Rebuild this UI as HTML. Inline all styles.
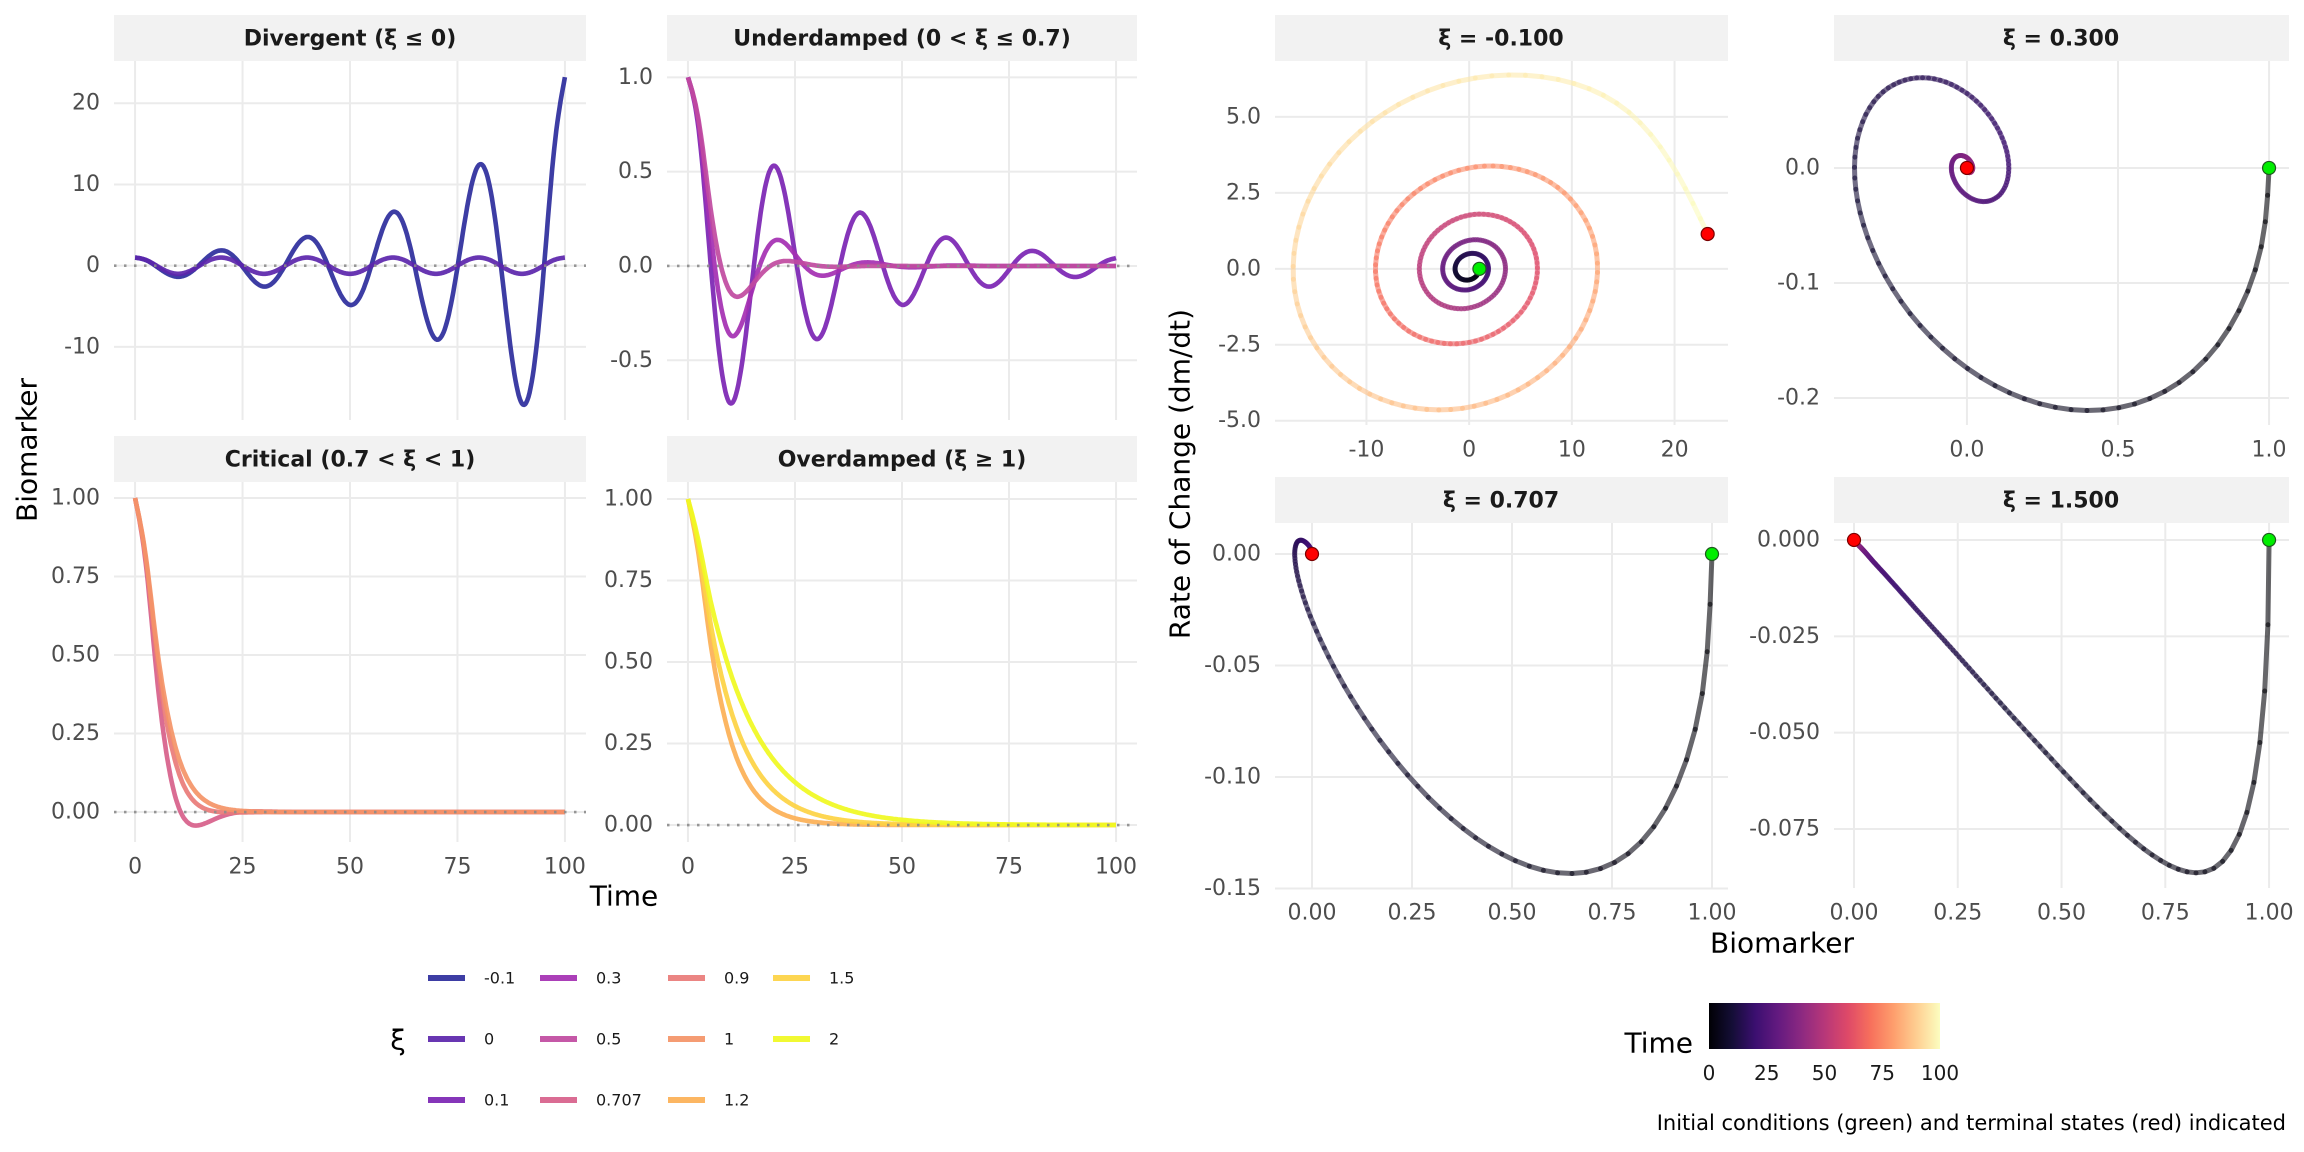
<!DOCTYPE html>
<html><head><meta charset="utf-8">
<style>
body{margin:0;background:#fff}
svg{display:block;font-family:"DejaVu Sans","Liberation Sans",sans-serif}
</style></head>
<body>
<svg id="chart" xmlns="http://www.w3.org/2000/svg" width="2304" height="1152" viewBox="0 0 2304 1152">
<defs>
<linearGradient id="magmaGrad" x1="0" y1="0" x2="1" y2="0">
<stop offset="0%" stop-color="#000004"/><stop offset="10%" stop-color="#140e36"/><stop offset="20%" stop-color="#3b0f70"/><stop offset="30%" stop-color="#641a80"/><stop offset="40%" stop-color="#8c2981"/><stop offset="50%" stop-color="#b73779"/><stop offset="60%" stop-color="#de4968"/><stop offset="70%" stop-color="#f7705c"/><stop offset="80%" stop-color="#fe9f6d"/><stop offset="90%" stop-color="#fecf92"/><stop offset="100%" stop-color="#fcfdbf"/>
</linearGradient>
</defs>
<rect width="2304" height="1152" fill="#fff"/>
<g id="layer"></g>
<g font-weight="bold" font-size="22" fill="#1a1a1a" text-anchor="middle">
<rect x="114" y="15" width="472" height="46" fill="#f2f2f2"/>
<text x="350" y="39" dominant-baseline="central">Divergent (ξ ≤ 0)</text>
<rect x="667" y="15" width="470" height="46" fill="#f2f2f2"/>
<text x="902" y="39" dominant-baseline="central">Underdamped (0 &lt; ξ ≤ 0.7)</text>
<rect x="114" y="436" width="472" height="46" fill="#f2f2f2"/>
<text x="350" y="460" dominant-baseline="central">Critical (0.7 &lt; ξ &lt; 1)</text>
<rect x="667" y="436" width="470" height="46" fill="#f2f2f2"/>
<text x="902" y="460" dominant-baseline="central">Overdamped (ξ ≥ 1)</text>
<rect x="1275" y="15" width="453" height="46" fill="#f2f2f2"/>
<text x="1501" y="39" dominant-baseline="central">ξ = -0.100</text>
<rect x="1834" y="15" width="455" height="46" fill="#f2f2f2"/>
<text x="2061" y="39" dominant-baseline="central">ξ = 0.300</text>
<rect x="1275" y="477" width="453" height="46" fill="#f2f2f2"/>
<text x="1501" y="501" dominant-baseline="central">ξ = 0.707</text>
<rect x="1834" y="477" width="455" height="46" fill="#f2f2f2"/>
<text x="2061" y="501" dominant-baseline="central">ξ = 1.500</text>
</g>
<g font-size="28" fill="#000" text-anchor="middle">
<text transform="translate(27,450) rotate(-90)" dominant-baseline="central">Biomarker</text>
<text x="624" y="896" dominant-baseline="central">Time</text>
<text transform="translate(1180,474) rotate(-90)" dominant-baseline="central">Rate of Change (dm/dt)</text>
<text x="1782" y="943" dominant-baseline="central">Biomarker</text>
<text x="398" y="1040" dominant-baseline="central">ξ</text>
<text x="1693" y="1043" text-anchor="end" dominant-baseline="central">Time</text>
</g>
<rect x="1709" y="1003" width="231" height="46" fill="url(#magmaGrad)"/>
<text x="2286" y="1123" font-size="21" fill="#000" text-anchor="end" dominant-baseline="central">Initial conditions (green) and terminal states (red) indicated</text>
</svg>
<script>
const T = [0,2.5,5,7.5,10,12.5,15,17.5,20,22.5,25,27.5,30,32.5,35,37.5,40,42.5,45,47.5,50,52.5,55,57.5,60,62.5,65,67.5,70,72.5,75,77.5,80,82.5,85,87.5,90,92.5,95,97.5,100];
const M_NEG01 = [1,0.6913,-0.1084,-0.9754,-1.3712,-0.9645,0.1232,1.3177,1.8796,1.3448,-0.1338,-1.7792,-2.5757,-1.8739,0.1357,2.4012,3.5287,2.6101,-0.1205,-3.2394,-4.8336,-3.6331,0.0760,4.3681,6.6191,5.0548,0.0185,-5.8862,-9.0625,-7.0310,-0.1931,7.9288,12.404,9.7732,0.4955,-10.674,-16.974,-13.579,-0.9929,14.364,23.22];
const D_NEG01 = [0,-0.2405,-0.3694,-0.2859,-0.0068,0.3241,0.5057,0.3974,0.0186,-0.4364,-0.6920,-0.5522,-0.0383,0.5873,0.9467,0.7667,0.0699,-0.7899,-1.2949,-1.0644,-0.1195,1.0619,1.7705,1.4768,0.1962,-1.4266,-2.4205,-2.0483,-0.3133,1.9153,3.3082,2.8396,0.4900,-2.5700,-4.5204,-3.9352,-0.7541,3.4459,6.1750,5.4511,1.1462];
const M_0 = [1,0.7071,0,-0.7071,-1,-0.7071,0,0.7071,1,0.7071,0,-0.7071,-1,-0.7071,0,0.7071,1,0.7071,0,-0.7071,-1,-0.7071,0,0.7071,1,0.7071,0,-0.7071,-1,-0.7071,0,0.7071,1,0.7071,0,-0.7071,-1,-0.7071,0,0.7071,1];
const M_01 = [1,0.7217,0.0926,-0.4952,-0.7292,-0.5338,-0.0775,0.3546,0.5315,0.3946,0.0637,-0.2536,-0.3874,-0.2917,-0.0518,0.1813,0.2822,0.2155,0.0416,-0.1295,-0.2056,-0.1592,-0.0332,0.0925,0.1497,0.1175,0.0263,-0.0659,-0.1090,-0.0867,-0.0207,0.0470,0.0793,0.0640,0.0162,-0.0335,-0.0577,-0.0472,-0.0126,0.0238,0.0420];
const M_03 = [1,0.7476,0.2408,-0.1880,-0.3678,-0.3082,-0.1270,0.0454,0.1318,0.1241,0.0613,-0.0065,-0.0458,-0.0490,-0.0280,-0.0019,0.0153,0.0189,0.0123,0.0024,-0.0049,-0.0071,-0.0052,-0.0016,0.0014,0.0026,0.0022,0.0009,-0.0004,-0.0009,-0.0009,-0.0004,0,0.0002,0.0002,0.0001,0,-0.0001,-0.0001,0,0];
const M_05 = [1,0.7703,0.3527,0.0191,-0.1408,-0.1565,-0.1001,-0.0338,0.0102,0.0261,0.0227,0.0120,0.0022,-0.0031,-0.0043,-0.0031,-0.0013,0.0001,0.0006,0.0006,0.0003,0,0,0,0,0,0,0,0,0,0,0,0,0,0,0,0,0,0,0,0];
const M_0707 = [1,0.7902,0.4413,0.1701,0.0206,-0.0359,-0.0418,-0.0290,-0.0145,-0.0046,0.0003,0.0018,0.0017,0.0010,0.0005,0,0,0,0,0,0,0,0,0,0,0,0,0,0,0,0,0,0,0,0,0,0,0,0,0,0];
const M_09 = [1,0.8064,0.5059,0.2740,0.1315,0.0555,0.0196,0.0047,-0.0004,-0.0015,-0.0013,-0.0008,-0.0004,-0.0002,-0.0001,0,0,0,0,0,0,0,0,0,0,0,0,0,0,0,0,0,0,0,0,0,0,0,0,0,0];
const M_1 = [1,0.8140,0.5344,0.3181,0.1790,0.0971,0.0513,0.0266,0.0136,0.0069,0.0035,0.0017,0.0008,0.0004,0.0002,0.0001,0,0,0,0,0,0,0,0,0,0,0,0,0,0,0,0,0,0,0,0,0,0,0,0,0];
const M_12 = [1,0.8278,0.5829,0.3916,0.2590,0.1704,0.1119,0.0735,0.0482,0.0316,0.0207,0.0136,0.0089,0.0059,0.0038,0.0025,0.0017,0.0011,0.0007,0.0005,0.0003,0.0002,0.0001,0,0,0,0,0,0,0,0,0,0,0,0,0,0,0,0,0,0];
const M_15 = [1,0.8455,0.6398,0.4757,0.3526,0.2612,0.1935,0.1434,0.1062,0.0787,0.0583,0.0432,0.0320,0.0237,0.0176,0.0130,0.0096,0.0071,0.0053,0.0039,0.0029,0.0022,0.0016,0.0012,0.0009,0.0006,0.0005,0.0004,0.0003,0.0002,0.0001,0,0,0,0,0,0,0,0,0,0];
const M_2 = [1,0.8688,0.7050,0.5730,0.4643,0.3762,0.3048,0.2469,0.2001,0.1621,0.1313,0.1064,0.0862,0.0699,0.0566,0.0459,0.0372,0.0301,0.0244,0.0198,0.0160,0.0130,0.0105,0.0085,0.0069,0.0056,0.0045,0.0037,0.0030,0.0024,0.0020,0.0016,0.0013,0.0010,0.0008,0.0007,0.0005,0.0004,0.0004,0.0003,0.0002];

const PT_03 = [0,0.6,1.25,2.5,3.75].concat(T.slice(2));
const PM_03 = [1,0.9829,0.9295,0.7476,0.5028].concat(M_03.slice(2));
const PD_03 = [0,-0.0557,-0.1071,-0.1772,-0.2085,-0.2050,-0.1266,-0.0185,0.0576,0.0782,0.0545,0.0142,-0.0175,-0.0292,-0.0228,-0.0082,0.0048,0.0106,0.0093,0.0041,-0.0010,-0.0038,-0.0037,-0.0020,0.0001,0.0013,0.0015,0.0009,0.0001,-0.0004,-0.0006,-0.0004,-0.0001,0.0001,0.0002,0.0001,0,0,-0.0001,-0.0001,0,0,0,0];
const PT_0707 = [0,0.6,1.25,2.5,3.75].concat(T.slice(2));
const PM_0707 = [1,0.9838,0.9362,0.7902,0.6141].concat(M_0707.slice(2));
const PD_0707 = [0,-0.0517,-0.0923,-0.1344,-0.1430,-0.1311,-0.0836,-0.0383,-0.0099,0.0030,0.0062,0.0050,0.0029,0.0011,0.0002,-0.0002,-0.0003,-0.0002,-0.0001,0,0,0,0,0,0,0,0,0,0,0,0,0,0,0,0,0,0,0,0,0,0,0,0,0];
const PT_15 = [0,0.25,0.5,1,1.5,2,2.5,3.5].concat(T.slice(2));
const PM_15 = [1,0.9972,0.9894,0.9634,0.9282,0.8880,0.8455,0.7597].concat(M_15.slice(2));
const PD_15 = [0,-0.0220,-0.0392,-0.0629,-0.0764,-0.0834,-0.0861,-0.0844,-0.0748,-0.0568,-0.0423,-0.0313,-0.0232,-0.0172,-0.0127,-0.0094,-0.0070,-0.0052,-0.0038,-0.0028,-0.0021,-0.0016,-0.0012,-0.0009,-0.0006,-0.0005,-0.0003,-0.0003,-0.0002,-0.0001,-0.0001,0,0,0,0,0,0,0,0,0,0,0,0,0,0,0,0];

const XI_LABELS = ['-0.1','0','0.1','0.3','0.5','0.707','0.9','1','1.2','1.5','2'];
const SERIES = [M_NEG01,M_0,M_01,M_03,M_05,M_0707,M_09,M_1,M_12,M_15,M_2];
const TIME_TICKS = [0,25,50,75,100];
const YT_DIV = [-10,0,10,20];
const YTL_DIV = ['-10','0','10','20'];
const YT_UND = [-0.5,0,0.5,1];
const YTL_UND = ['-0.5','0.0','0.5','1.0'];
const YT_CRIT = [0,0.25,0.5,0.75,1];
const YTL_CRIT = ['0.00','0.25','0.50','0.75','1.00'];
const PX1_T = [-10,0,10,20];
const PX1_L = ['-10','0','10','20'];
const PY1_T = [-5,-2.5,0,2.5,5];
const PY1_L = ['-5.0','-2.5','0.0','2.5','5.0'];
const PX2_T = [0,0.5,1];
const PX2_L = ['0.0','0.5','1.0'];
const PY2_T = [-0.2,-0.1,0];
const PY2_L = ['-0.2','-0.1','0.0'];
const PX34_T = [0,0.25,0.5,0.75,1];
const PX34_L = ['0.00','0.25','0.50','0.75','1.00'];
const PY3_T = [-0.15,-0.10,-0.05,0];
const PY3_L = ['-0.15','-0.10','-0.05','0.00'];
const PY4_T = [-0.075,-0.05,-0.025,0];
const PY4_L = ['-0.075','-0.050','-0.025','0.000'];
const CB_TICKS = [0,25,50,75,100];

const XI_COLORS = ['#2d2c9c','#5b25ab','#7b24b3','#a42fb2','#c04a9f','#d7608a','#e97b78','#f49467','#fcb055','#fdd243','#f0f921'];
const MAGMA = ['#000004','#140e36','#3b0f70','#641a80','#8c2981','#b73779','#de4968','#f7705c','#fe9f6d','#fecf92','#fcfdbf'];

const NS = 'http://www.w3.org/2000/svg';
const layer = document.getElementById('layer');
function mk(tag, attrs, parent){
  const e = document.createElementNS(NS, tag);
  for (const k in attrs) e.setAttribute(k, attrs[k]);
  (parent || layer).appendChild(e);
  return e;
}
function lin(d0,d1,r0,r1){ return v => r0 + (v-d0)/(d1-d0)*(r1-r0); }
function spline(xs, ys){
  const n = Math.min(xs.length, ys.length), y2 = new Array(n).fill(0), u = new Array(n).fill(0);
  for (let i=1;i<n-1;i++){
    const sig=(xs[i]-xs[i-1])/(xs[i+1]-xs[i-1]);
    const p=sig*y2[i-1]+2;
    y2[i]=(sig-1)/p;
    let d=(ys[i+1]-ys[i])/(xs[i+1]-xs[i])-(ys[i]-ys[i-1])/(xs[i]-xs[i-1]);
    u[i]=(6*d/(xs[i+1]-xs[i-1])-sig*u[i-1])/p;
  }
  y2[n-1]=0;
  for (let k=n-2;k>=0;k--) y2[k]=y2[k]*y2[k+1]+u[k];
  return function(x){
    let lo=0, hi=n-1;
    while(hi-lo>1){ const m=(hi+lo)>>1; if(xs[m]>x) hi=m; else lo=m; }
    const h=xs[hi]-xs[lo], a=(xs[hi]-x)/h, b=(x-xs[lo])/h;
    return a*ys[lo]+b*ys[hi]+((a*a*a-a)*y2[lo]+(b*b*b-b)*y2[hi])*h*h/6;
  };
}
function hex(c){ return [parseInt(c.slice(1,3),16),parseInt(c.slice(3,5),16),parseInt(c.slice(5,7),16)]; }
function magma(f){
  f=Math.max(0,Math.min(1,f));
  const p=f*(MAGMA.length-1), i=Math.min(MAGMA.length-2,Math.floor(p)), r=p-i;
  const a=hex(MAGMA[i]), b=hex(MAGMA[i+1]);
  return 'rgb('+a.map((v,k)=>Math.round(v+(b[k]-v)*r)).join(',')+')';
}

function drawAxes(p, sx, sy, xt, xl, yt, yl, showX, key){
  xt.forEach(v=>{
    const g = mk('line',{x1:sx(v),x2:sx(v),y1:p.y0,y2:p.y1,stroke:'#ebebeb','stroke-width':2});
    
    
  });
  yt.forEach(v=>{
    const g = mk('line',{x1:p.x0,x2:p.x1,y1:sy(v),y2:sy(v),stroke:'#ebebeb','stroke-width':2});
    
    
  });
  yt.forEach((v,i)=>{
    const t = mk('text',{x:p.x0-14,y:sy(v),'text-anchor':'end','dominant-baseline':'central','font-size':22,fill:'#4d4d4d'});
    t.textContent = yl[i];
    
    
  });
  if (showX) xt.forEach((v,i)=>{
    const t = mk('text',{x:sx(v),y:p.y1+25,'text-anchor':'middle','dominant-baseline':'central','font-size':22,fill:'#4d4d4d'});
    t.textContent = xl[i];
    
    
  });
}

const LEFT = [
  {key:'divergent',x0:114,x1:586,y0:61,y1:420,yd:[-19.0,25.2],yt:YT_DIV,yl:YTL_DIV,showX:false,idx:[0,1]},
  {key:'underdamped',x0:667,x1:1137,y0:61,y1:420,yd:[-0.8165,1.0865],yt:YT_UND,yl:YTL_UND,showX:false,idx:[2,3,4]},
  {key:'critical',x0:114,x1:586,y0:482,y1:842,yd:[-0.0955,1.051],yt:YT_CRIT,yl:YTL_CRIT,showX:true,idx:[5,6,7]},
  {key:'overdamped',x0:667,x1:1137,y0:482,y1:842,yd:[-0.052,1.052],yt:YT_CRIT,yl:YTL_CRIT,showX:true,idx:[8,9,10]}
];
LEFT.forEach(p=>{
  const sx = lin(-4.9,104.9,p.x0,p.x1), sy = lin(p.yd[0],p.yd[1],p.y1,p.y0);
  drawAxes(p,sx,sy,TIME_TICKS,TIME_TICKS.map(String),p.yt,p.yl,p.showX,p.key);
  p.idx.forEach(i=>{
    const f = spline(T, SERIES[i]);
    let d='';
    for (let t=0;t<=100.001;t+=0.25){ d += (t===0?'M':'L')+sx(t).toFixed(1)+','+sy(f(t)).toFixed(1); }
    const path = mk('path',{d:d,fill:'none',stroke:XI_COLORS[i],'stroke-width':4.6,'stroke-opacity':0.92,'stroke-linejoin':'round'});
    
    
  });
  const z = mk('line',{x1:p.x0,x2:p.x1,y1:sy(0),y2:sy(0),stroke:'#8c8c8c','stroke-width':2.6,'stroke-dasharray':'2.5,7.5','stroke-opacity':0.9});
  
  
});

const PHASE = [
  {key:'phase-neg01',x0:1275,x1:1728,y0:61,y1:425,xd:[-18.9,25.2],yd:[-5.14,6.84],t:T,m:M_NEG01,dm:D_NEG01,xt:PX1_T,xl:PX1_L,yt:PY1_T,yl:PY1_L},
  {key:'phase-03',x0:1834,x1:2289,y0:61,y1:425,xd:[-0.44,1.066],yd:[-0.2235,0.093],t:PT_03,m:PM_03,dm:PD_03,xt:PX2_T,xl:PX2_L,yt:PY2_T,yl:PY2_L},
  {key:'phase-0707',x0:1275,x1:1728,y0:523,y1:888,xd:[-0.0925,1.04],yd:[-0.1498,0.0139],t:PT_0707,m:PM_0707,dm:PD_0707,xt:PX34_T,xl:PX34_L,yt:PY3_T,yl:PY3_L},
  {key:'phase-15',x0:1834,x1:2289,y0:523,y1:888,xd:[-0.0482,1.048],yd:[-0.0903,0.0044],t:PT_15,m:PM_15,dm:PD_15,xt:PX34_T,xl:PX34_L,yt:PY4_T,yl:PY4_L}
];
PHASE.forEach(p=>{
  const sx = lin(p.xd[0],p.xd[1],p.x0,p.x1), sy = lin(p.yd[0],p.yd[1],p.y1,p.y0);
  drawAxes(p,sx,sy,p.xt,p.xl,p.yt,p.yl,true,p.key);
  const fm = spline(p.t,p.m), fd = spline(p.t,p.dm);
  const g = mk('g',{'stroke-width':5,'stroke-linecap':'round','stroke-opacity':0.6});
  
  
  let px = sx(fm(0)), py = sy(fd(0));
  for (let t=0.25;t<=100.001;t+=0.25){
    const nx = sx(fm(t)), ny = sy(fd(t));
    const s = mk('line',{x1:px.toFixed(1),y1:py.toFixed(1),x2:nx.toFixed(1),y2:ny.toFixed(1),stroke:magma((t-0.125)/100)},g);
    
    
    px=nx; py=ny;
  }
  const n = Math.min(p.m.length, p.dm.length)-1;
  const red = mk('circle',{cx:sx(p.m[n]),cy:sy(p.dm[n]),r:6.5,fill:'#ff0000',stroke:'#7a0000','stroke-width':1.2});
  
  
  const green = mk('circle',{cx:sx(p.m[0]),cy:sy(p.dm[0]),r:6.5,fill:'#00ee00',stroke:'#1f5a1f','stroke-width':1.2});
  
  
});

// legend
const LEG_COL_X = [428,540,668,773];
XI_LABELS.forEach((lab,i)=>{
  const col = Math.floor(i/3), row = i%3;
  const x = LEG_COL_X[col], y = 978 + row*61;
  const k = mk('line',{x1:x,x2:x+37,y1:y,y2:y,stroke:XI_COLORS[i],'stroke-width':6,'stroke-opacity':0.92});
  
  
  const t = mk('text',{x:x+56,y:y,'dominant-baseline':'central','font-size':16,fill:'#1a1a1a'});
  t.textContent = lab;
  
  
});

// colorbar ticks & labels
const cbx = lin(0,100,1709,1940);
CB_TICKS.forEach(v=>{
  if (v>0 && v<100){
    const a = mk('line',{x1:cbx(v),x2:cbx(v),y1:1003,y2:1011,stroke:'#fff','stroke-width':1.5});
    
    
    const b = mk('line',{x1:cbx(v),x2:cbx(v),y1:1041,y2:1049,stroke:'#fff','stroke-width':1.5});
    
    
  }
  const t = mk('text',{x:cbx(v),y:1073,'text-anchor':'middle','dominant-baseline':'central','font-size':20,fill:'#1a1a1a'});
  t.textContent = String(v);
  
  
});
</script>
</body></html>
